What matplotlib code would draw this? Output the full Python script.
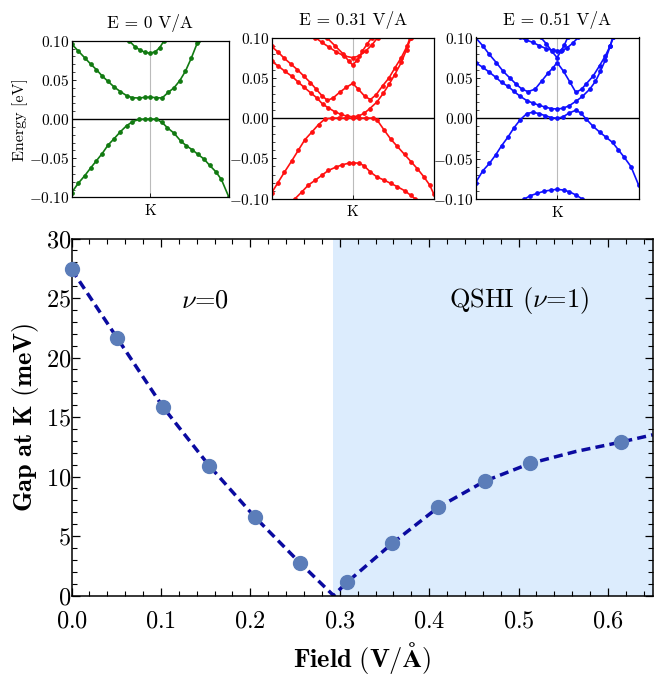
import matplotlib
matplotlib.use('Agg')
import matplotlib.pyplot as plt
from matplotlib.ticker import MultipleLocator

plt.rcParams['font.family'] = 'cmr10'
plt.rcParams['mathtext.fontset'] = 'cm'
plt.rcParams['axes.formatter.use_mathtext'] = True

W, H = 657, 675

# gap at K versus applied field
gap_field = [0.0, 0.0513, 0.1026, 0.154, 0.205, 0.256, 0.308, 0.359, 0.41, 0.462, 0.513, 0.615]
gap_mev = [27.4, 21.6, 15.8, 10.9, 6.6, 2.7, 1.1, 4.4, 7.4, 9.6, 11.1, 12.9]

# guide curve through the gap values (closes at the transition field)
curve_field = [0.0, 0.0513, 0.1026, 0.154, 0.205, 0.256, 0.293, 0.308, 0.359, 0.41,
               0.462, 0.513, 0.564, 0.615, 0.65]
curve_mev = [27.4, 21.6, 15.8, 10.9, 6.6, 2.7, 0.0, 1.1, 4.4, 7.4, 9.6, 11.1, 12.1, 12.9, 13.5]
transition_field = 0.293

# band structures near K, k in units of the window half width
green_valence = ([-1.0, -0.915, -0.83, -0.754, -0.682, -0.61, -0.534, -0.458, -0.377, -0.30,
                  -0.225, -0.144, -0.068, 0.0, 0.08, 0.153, 0.22, 0.305, 0.39, 0.462, 0.534,
                  0.61, 0.686, 0.758, 0.835, 0.907, 1.0],
                 [-0.094, -0.082, -0.072, -0.062, -0.053, -0.044, -0.033, -0.025, -0.016,
                  -0.0085, -0.0034, -0.0004, 0.0, 0.0, 0.0, -0.0043, -0.011, -0.018, -0.028,
                  -0.034, -0.039, -0.045, -0.051, -0.059, -0.067, -0.077, -0.099])
green_cond1 = ([-1.0, -0.915, -0.83, -0.754, -0.682, -0.61, -0.534, -0.458, -0.377, -0.30,
                -0.225, -0.144, -0.068, 0.0, 0.08, 0.153, 0.229, 0.305, 0.377, 0.449, 0.525,
                0.60, 0.615],
               [0.096, 0.087, 0.078, 0.070, 0.063, 0.055, 0.048, 0.041, 0.035, 0.030, 0.0273,
                0.0269, 0.0277, 0.028, 0.0273, 0.0269, 0.034, 0.040, 0.049, 0.061, 0.078,
                0.097, 0.1])
green_cond2 = ([-0.267, -0.195, -0.131, -0.068, 0.0, 0.068, 0.123, 0.178],
               [0.1, 0.0925, 0.0883, 0.0853, 0.084, 0.086, 0.0913, 0.1])

red_valence1 = ([-1.0, -0.92, -0.84, -0.75, -0.67, -0.59, -0.5, -0.42, -0.34, -0.25, -0.17,
                 -0.08, 0.0, 0.08, 0.17, 0.25, 0.3, 0.39, 0.47, 0.55, 0.64, 0.72, 0.8, 0.88,
                 0.95, 1.0],
                [-0.093, -0.080, -0.067, -0.053, -0.040, -0.027, -0.017, -0.008, -0.001, 0.0,
                 0.0, 0.0, 0.0, 0.0, 0.0, 0.0, -0.002, -0.015, -0.026, -0.035, -0.045, -0.054,
                 -0.063, -0.073, -0.083, -0.094])
red_valence2 = ([-0.71, -0.63, -0.545, -0.46, -0.38, -0.3, -0.21, -0.13, -0.05, 0.0, 0.08,
                 0.14, 0.22, 0.3, 0.39, 0.47, 0.55, 0.64, 0.72, 0.77],
                [-0.1, -0.092, -0.083, -0.077, -0.071, -0.065, -0.061, -0.058, -0.056, -0.0554,
                 -0.056, -0.059, -0.067, -0.073, -0.077, -0.081, -0.085, -0.09, -0.096, -0.1])
red_cond1 = ([-1.0, -0.916, -0.834, -0.75, -0.67, -0.6, -0.517, -0.44, -0.37, -0.3, -0.22,
              -0.14, -0.074, 0.0, 0.07, 0.14, 0.21, 0.3, 0.38, 0.45, 0.52, 0.6, 0.665, 0.72],
             [0.0707, 0.0645, 0.058, 0.052, 0.0446, 0.0384, 0.0314, 0.025, 0.0174, 0.0128,
              0.0079, 0.0045, 0.0025, 0.0017, 0.0025, 0.0058, 0.0116, 0.02, 0.031, 0.042,
              0.054, 0.069, 0.085, 0.1])
red_cond2 = ([-1.0, -0.92, -0.84, -0.76, -0.68, -0.6, -0.52, -0.45, -0.38, -0.31, -0.24,
              -0.16, -0.08, 0.0, 0.07, 0.15, 0.22, 0.29, 0.37, 0.45, 0.52, 0.6, 0.67, 0.71],
             [0.089, 0.082, 0.074, 0.067, 0.060, 0.052, 0.044, 0.036, 0.028, 0.022, 0.025,
              0.032, 0.038, 0.043, 0.036, 0.027, 0.023, 0.029, 0.040, 0.050, 0.062, 0.075,
              0.089, 0.1])
red_cond3 = ([-0.46, -0.38, -0.29, -0.2, -0.1, 0.0, 0.08, 0.16, 0.24, 0.31],
             [0.1, 0.094, 0.088, 0.082, 0.077, 0.075, 0.077, 0.083, 0.091, 0.1])
red_cond4 = ([-0.32, -0.22, -0.12, -0.05, 0.0, 0.06, 0.12, 0.18, 0.236],
             [0.1, 0.09, 0.08, 0.071, 0.066, 0.072, 0.083, 0.092, 0.1])

blue_valence1 = ([-1.0, -0.91, -0.83, -0.75, -0.68, -0.6, -0.53, -0.45, -0.37, -0.3, -0.22,
                  -0.15, -0.07, 0.0, 0.07, 0.15, 0.23, 0.29, 0.355, 0.44, 0.52, 0.6, 0.68,
                  0.75, 0.82, 0.906, 1.0],
                 [-0.080, -0.065, -0.056, -0.045, -0.034, -0.023, -0.012, -0.0016, 0.0058,
                  0.0074, 0.0058, 0.0033, 0.0008, 0.0, 0.0016, 0.0066, 0.0099, 0.0066,
                  -0.0008, -0.0099, -0.017, -0.0235, -0.030, -0.039, -0.048, -0.060, -0.083])
blue_valence2 = ([-0.4, -0.33, -0.245, -0.163, -0.08, 0.0, 0.08, 0.15, 0.23, 0.31],
                 [-0.1, -0.096, -0.093, -0.0905, -0.089, -0.088, -0.089, -0.091, -0.095, -0.1])
blue_cond1 = ([-1.0, -0.91, -0.83, -0.75, -0.68, -0.6, -0.53, -0.45, -0.37, -0.3, -0.22,
               -0.15, -0.07, 0.0, 0.07, 0.15, 0.23, 0.31, 0.4, 0.47, 0.53, 0.59, 0.65, 0.68],
              [0.069, 0.063, 0.057, 0.0506, 0.0444, 0.0395, 0.0333, 0.027, 0.0218, 0.019,
               0.016, 0.014, 0.0119, 0.0115, 0.0123, 0.0156, 0.021, 0.027, 0.036, 0.0457,
               0.058, 0.072, 0.089, 0.1])
blue_cond2 = ([-1.0, -0.91, -0.83, -0.746, -0.66, -0.58, -0.5, -0.43, -0.357, -0.27, -0.19,
               -0.11, -0.05, 0.0, 0.08, 0.156, 0.23, 0.3, 0.36, 0.44, 0.52, 0.59, 0.65, 0.69],
              [0.1, 0.0896, 0.079, 0.069, 0.058, 0.05, 0.042, 0.036, 0.033, 0.036, 0.046,
               0.056, 0.0625, 0.069, 0.058, 0.045, 0.032, 0.036, 0.043, 0.052, 0.065, 0.077,
               0.0896, 0.1])
blue_cond3 = ([-0.2, -0.13, -0.065, 0.0, 0.045, 0.09, 0.13],
              [0.1, 0.092, 0.083, 0.075, 0.083, 0.091, 0.1])
blue_cond4 = ([-0.46, -0.38, -0.3, -0.22, -0.13, -0.05, 0.0, 0.06, 0.12, 0.19, 0.26],
              [0.1, 0.097, 0.094, 0.09, 0.086, 0.084, 0.0835, 0.084, 0.087, 0.093, 0.1])

panel_titles = ['E = 0 V/A', 'E = 0.31 V/A', 'E = 0.51 V/A']
panel_colors = ['#117a11', '#ff1010', '#1010ff']
panel_bands = [
    [green_valence, green_cond1, green_cond2],
    [red_valence1, red_valence2, red_cond1, red_cond2, red_cond3, red_cond4],
    [blue_valence1, blue_valence2, blue_cond1, blue_cond2, blue_cond3, blue_cond4],
]
# left, top, right, bottom in pixels
panel_boxes = [(71.5, 40.7, 228.7, 197.5), (271.5, 37.5, 433.7, 198.7), (475.5, 37.5, 638.7, 199)]


def px_rect(l, t, r, b):
    return [l / W, 1 - b / H, (r - l) / W, (b - t) / H]


fig = plt.figure(figsize=(W / 100, H / 100), dpi=100)

for i, (box, title, color, bands) in enumerate(zip(panel_boxes, panel_titles, panel_colors, panel_bands)):
    ax = fig.add_axes(px_rect(*box))
    ax.axvline(0, color='#bbbbbb', lw=0.8, zorder=1)
    ax.axhline(0, color='black', lw=1.0, zorder=1)
    for k, e in bands:
        ax.plot(k, e, '-o', color=color, lw=1.2, ms=2.4, zorder=2)
    ax.set_xlim(-1, 1)
    ax.set_ylim(-0.1, 0.1)
    ax.set_xticks([0])
    ax.set_xticklabels(['K'])
    ax.yaxis.set_major_locator(MultipleLocator(0.05))
    ax.yaxis.set_minor_locator(MultipleLocator(0.01))
    ax.tick_params(direction='in', labelsize=11, length=3, width=0.6, pad=1.5)
    ax.tick_params(axis='x', pad=5)
    ax.tick_params(which='minor', direction='in', length=1.8, width=0.5)
    ax.set_title(title, fontsize=12.5, pad=9)
    for s in ax.spines.values():
        s.set_linewidth(0.9)
    if i == 0:
        ax.set_ylabel('Energy [eV]', fontsize=11.5, labelpad=1)

ax = fig.add_axes(px_rect(71.6, 238.5, 652.6, 595.5))
ax.axvspan(transition_field, 0.65, color='#dcecfd', lw=0, zorder=0)
ax.plot(curve_field, curve_mev, color='#0a0aa0', lw=2.5, linestyle=(0, (2.6, 1.5)), zorder=2)
ax.plot(gap_field, gap_mev, 'o', color='#5b7db9', ms=10, zorder=3, clip_on=False)
ax.set_xlim(0, 0.65)
ax.set_ylim(0, 30)
ax.xaxis.set_major_locator(MultipleLocator(0.1))
ax.xaxis.set_minor_locator(MultipleLocator(0.02))
ax.yaxis.set_major_locator(MultipleLocator(5))
ax.yaxis.set_minor_locator(MultipleLocator(1))
ax.tick_params(which='both', direction='in', top=True, right=True, labelsize=17.5)
ax.tick_params(which='major', length=6, width=0.9)
ax.tick_params(axis='x', pad=11)
ax.tick_params(axis='y', pad=0.5)
ax.tick_params(which='minor', length=3.5, width=0.8)
for s in ax.spines.values():
    s.set_linewidth(1.1)

ax.text(0.149, 24.8, r'$\nu$=0', fontsize=19, ha='center', va='center')
ax.text(0.50, 24.8, r'QSHI ($\nu$=1)', fontsize=19, ha='center', va='center')

ax.set_xlabel(r'$\mathbf{Field\ (V/\AA)}$', fontsize=19, labelpad=5)
ax.set_ylabel(r'$\mathbf{Gap\ at\ K\ (meV)}$', fontsize=19, labelpad=3)

fig.savefig('out.png', dpi=100)
